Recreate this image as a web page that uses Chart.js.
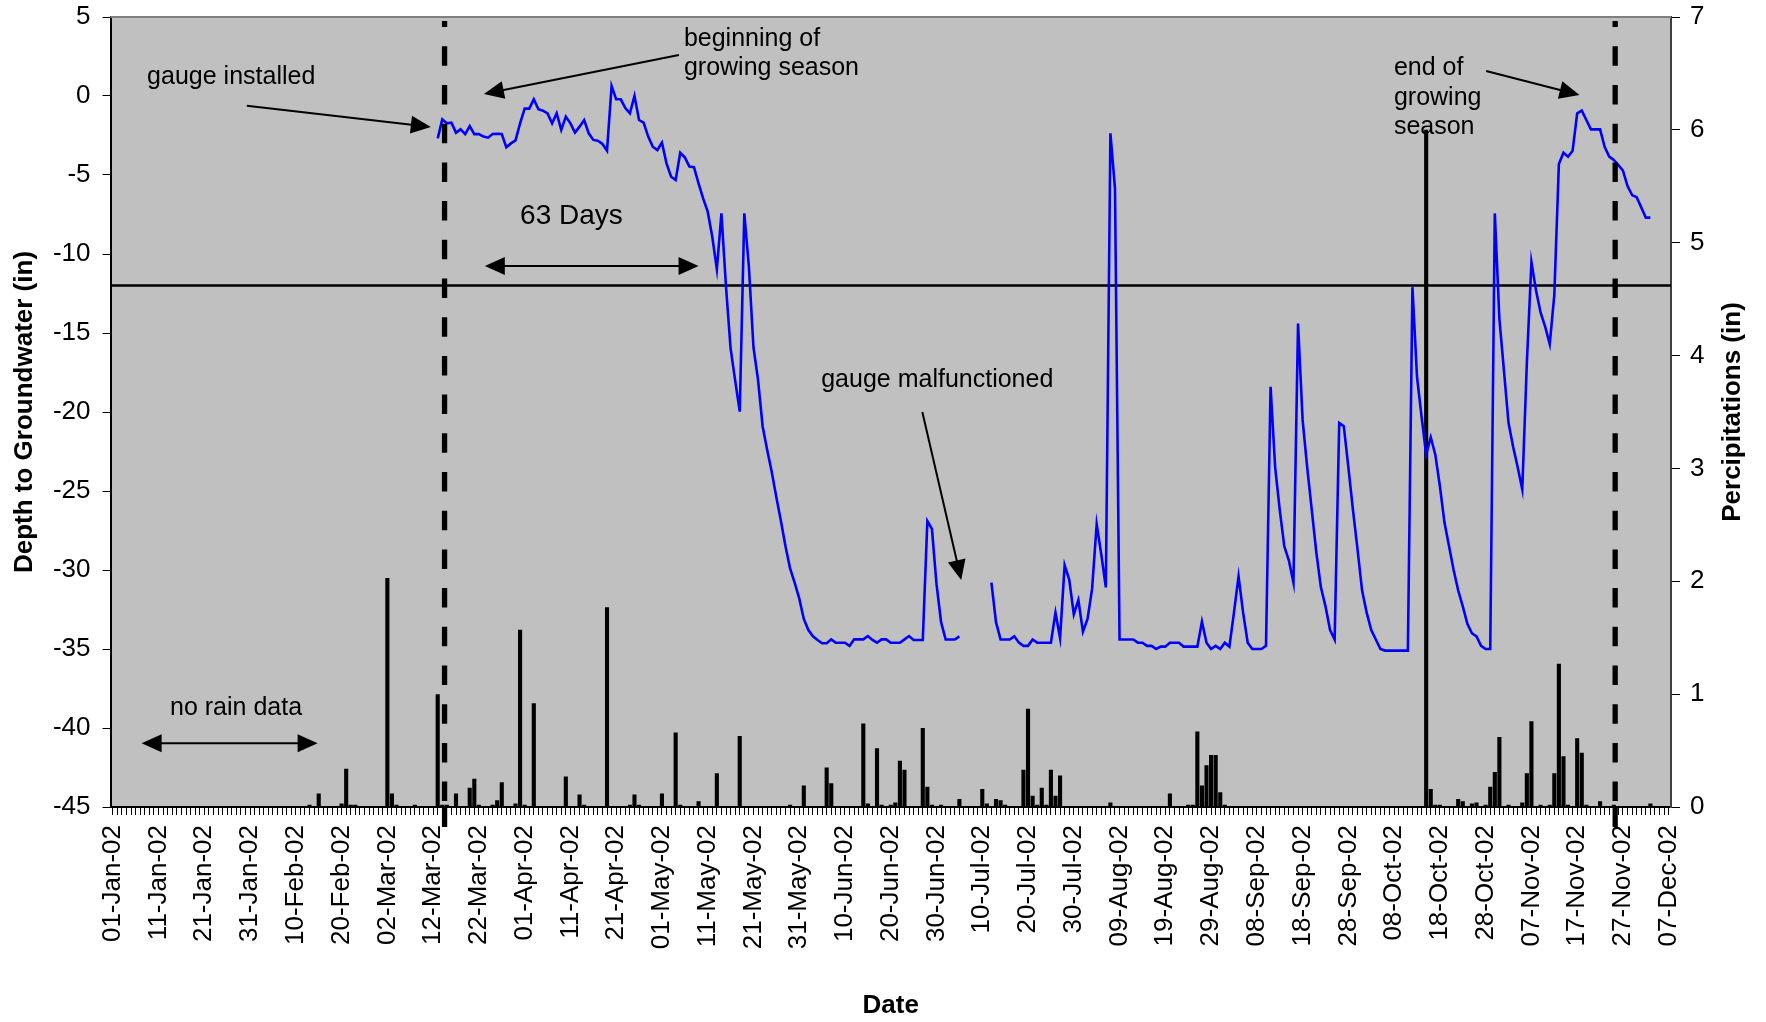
<!DOCTYPE html>
<html>
<head>
<meta charset="utf-8">
<script src="https://cdn.jsdelivr.net/npm/chart.js@4.4.1/dist/chart.umd.min.js"></script>
<style>
html,body{margin:0;padding:0;background:#fff;}
canvas{display:block;}
</style>
</head>
<body>
<canvas id="c" width="1766" height="1022"></canvas>
<script>
// ---------------- data ----------------
const xTickLabels = ['01-Jan-02','11-Jan-02','21-Jan-02','31-Jan-02','10-Feb-02','20-Feb-02','02-Mar-02','12-Mar-02',
  '22-Mar-02','01-Apr-02','11-Apr-02','21-Apr-02','01-May-02','11-May-02','21-May-02','31-May-02','10-Jun-02',
  '20-Jun-02','30-Jun-02','10-Jul-02','20-Jul-02','30-Jul-02','09-Aug-02','19-Aug-02','29-Aug-02','08-Sep-02',
  '18-Sep-02','28-Sep-02','08-Oct-02','18-Oct-02','28-Oct-02','07-Nov-02','17-Nov-02','27-Nov-02','07-Dec-02'];

const axisStartDate = '2002-01-01';
const axisEndDate = '2002-12-07';

// daily depth to groundwater (in), first reading on depthStartDate; null = gauge malfunctioned
const depthStartDate = '2002-03-13';
const depthIn = [
  -2.68,-1.48,-1.73,-1.69,-2.32,-2.11,-2.41,-1.90,-2.41,-2.41,
  -2.57,-2.64,-2.41,-2.39,-2.41,-3.25,-3.00,-2.81,-1.73,-0.80,
  -0.80,-0.21,-0.84,-0.93,-1.10,-1.73,-1.10,-2.15,-1.31,-1.73,
  -2.32,-1.94,-1.52,-2.36,-2.78,-2.83,-3.04,-3.46,0.63,-0.21,
  -0.21,-0.76,-1.10,0.00,-1.52,-1.69,-2.57,-3.21,-3.42,-2.95,
  -4.26,-5.11,-5.32,-3.59,-3.88,-4.47,-4.51,-5.53,-6.48,-7.32,
  -8.91,-10.97,-7.43,-12.07,-15.97,-18.0,-19.98,-7.43,-10.8,-15.9,
  -17.97,-20.9,-22.4,-23.8,-25.4,-26.9,-28.5,-29.9,-30.8,-31.8,
  -33.1,-33.8,-34.2,-34.43,-34.64,-34.64,-34.39,-34.6,-34.6,-34.6,
  -34.81,-34.39,-34.39,-34.39,-34.18,-34.43,-34.6,-34.39,-34.39,-34.6,
  -34.6,-34.6,-34.39,-34.18,-34.43,-34.43,-34.43,-26.9,-27.4,-30.9,
  -33.3,-34.4,-34.4,-34.4,-34.2,null,null,null,null,null,
  null,-30.8,-33.3,-34.4,-34.4,-34.4,-34.2,-34.6,-34.8,-34.8,
  -34.4,-34.6,-34.6,-34.6,-34.6,-32.7,-34.3,-29.7,-30.6,-32.8,
  -31.9,-33.9,-33.1,-31.2,-27.1,-29.0,-31.1,-2.36,-5.84,-34.4,
  -34.4,-34.4,-34.4,-34.6,-34.6,-34.8,-34.8,-35.0,-34.85,-34.85,
  -34.6,-34.6,-34.6,-34.85,-34.85,-34.85,-34.85,-33.27,-34.6,-35.0,
  -34.8,-35.0,-34.6,-34.85,-32.7,-30.4,-32.7,-34.6,-35.0,-35.0,
  -35.0,-34.8,-18.4,-23.5,-26.2,-28.5,-29.4,-30.8,-14.4,-20.5,
  -23.5,-26.2,-28.9,-31.1,-32.3,-33.8,-34.4,-20.7,-20.9,-23.5,
  -26.2,-28.7,-31.3,-32.7,-33.8,-34.4,-35.0,-35.1,-35.1,-35.1,
  -35.1,-35.1,-35.1,-12.1,-17.8,-20.3,-22.7,-21.6,-22.7,-24.7,
  -27.0,-28.5,-30.0,-31.3,-32.3,-33.4,-34.0,-34.2,-34.8,-35.0,
  -35.0,-7.43,-14.1,-17.4,-20.7,-22.2,-23.5,-24.9,-16.9,-10.5,
  -12.3,-13.7,-14.6,-15.7,-12.6,-4.3,-3.59,-3.84,-3.46,-1.10,
  -0.93,-1.52,-2.11,-2.11,-2.11,-3.21,-3.84,-4.05,-4.37,-4.73,
  -5.70,-6.27,-6.41,-7.05,-7.70,-7.70
];

// daily precipitation (in)
const rainDates = [
  '2002-02-13','2002-02-15','2002-02-20','2002-02-21','2002-02-22','2002-02-23','2002-03-02','2002-03-03',
  '2002-03-04','2002-03-08','2002-03-13','2002-03-14','2002-03-15','2002-03-17','2002-03-20','2002-03-21',
  '2002-03-22','2002-03-25','2002-03-26','2002-03-27','2002-03-30','2002-03-31','2002-04-01','2002-04-03',
  '2002-04-10','2002-04-13','2002-04-14','2002-04-19','2002-04-24','2002-04-25','2002-04-26','2002-05-01',
  '2002-05-04','2002-05-05','2002-05-09','2002-05-13','2002-05-18','2002-05-29','2002-06-01','2002-06-06',
  '2002-06-07','2002-06-14','2002-06-15','2002-06-17','2002-06-18','2002-06-20','2002-06-21','2002-06-22',
  '2002-06-23','2002-06-27','2002-06-28','2002-06-29','2002-07-01','2002-07-05','2002-07-10','2002-07-11',
  '2002-07-13','2002-07-14','2002-07-15','2002-07-19','2002-07-20','2002-07-21','2002-07-22','2002-07-23',
  '2002-07-24','2002-07-25','2002-07-26','2002-07-27','2002-08-07','2002-08-20','2002-08-24','2002-08-25',
  '2002-08-26','2002-08-27','2002-08-28','2002-08-29','2002-08-30','2002-08-31','2002-09-01','2002-10-15',
  '2002-10-16','2002-10-17','2002-10-18','2002-10-22','2002-10-23','2002-10-25','2002-10-26','2002-10-28',
  '2002-10-29','2002-10-30','2002-10-31','2002-11-02','2002-11-05','2002-11-06','2002-11-07','2002-11-09',
  '2002-11-11','2002-11-12','2002-11-13','2002-11-14','2002-11-15','2002-11-17','2002-11-18','2002-11-19',
  '2002-11-22','2002-11-25','2002-12-03'
];
const rainIn = [
  0.02,0.12,0.03,0.34,0.02,0.02,2.03,0.12,
  0.02,0.02,1.00,0.02,0.02,0.12,0.17,0.25,
  0.02,0.02,0.06,0.22,0.03,1.57,0.02,0.92,
  0.27,0.11,0.02,1.77,0.02,0.11,0.02,0.12,
  0.66,0.02,0.05,0.30,0.63,0.02,0.19,0.35,
  0.21,0.74,0.03,0.52,0.02,0.02,0.04,0.41,
  0.33,0.70,0.18,0.02,0.02,0.07,0.16,0.03,
  0.07,0.06,0.02,0.33,0.87,0.10,0.02,0.17,
  0.02,0.33,0.10,0.28,0.04,0.12,0.02,0.02,
  0.67,0.19,0.37,0.46,0.46,0.13,0.02,6.00,
  0.16,0.02,0.02,0.07,0.05,0.03,0.04,0.02,
  0.18,0.31,0.62,0.02,0.04,0.30,0.76,0.02,
  0.02,0.30,1.27,0.45,0.02,0.61,0.48,0.02,
  0.05,0.02,0.03
];

const thresholdDepth = -12;                 // horizontal reference line (in)
const growingSeasonDays = [72.5, 328.3];    // day offsets of dashed season markers

// ---------------- helpers ----------------
const FONT = '"Liberation Sans", Arial, Helvetica, sans-serif';
const MONTHS = ['Jan','Feb','Mar','Apr','May','Jun','Jul','Aug','Sep','Oct','Nov','Dec'];
const DAY0 = Date.UTC(2002, 0, 1);
function dayOf(iso){ const [y,m,d] = iso.split('-').map(Number); return Math.round((Date.UTC(y,m-1,d)-DAY0)/864e5); }
function dayOfLabel(l){ const [d,mon,yy] = l.split('-'); return Math.round((Date.UTC(2000+Number(yy), MONTHS.indexOf(mon), Number(d))-DAY0)/864e5); }

const firstDay = dayOf(axisStartDate), lastDay = dayOf(axisEndDate);
const labelByDay = new Map(xTickLabels.map(l => [dayOfLabel(l), l]));
const allDays = []; for (let d = firstDay; d <= lastDay; d++) allDays.push(d);
const d0 = dayOf(depthStartDate);
const depthPoints = depthIn.map((v,i) => ({x: d0 + i, y: v}));
const rainPoints = rainDates.map((s,i) => ({x: dayOf(s), y: rainIn[i]}));

// annotations in data coordinates [day, depth]
const notes = [
  {t:'gauge installed', at:[7.5, 0.79], size:25},
  {t:'beginning of', at:[124.8, 3.16], size:25},
  {t:'growing season', at:[124.8, 1.33], size:25},
  {t:'63 Days', at:[89.0, -8.10], size:28},
  {t:'gauge malfunctioned', at:[154.8, -18.39], size:25},
  {t:'no rain data', at:[12.5, -39.18], size:25},
  {t:'end of', at:[279.95, 1.33], size:25},
  {t:'growing', at:[279.95, -0.54], size:25},
  {t:'season', at:[279.95, -2.41], size:25}
];
const arrows = [
  {from:[29.3,-0.61], to:[69.5,-1.96]},
  {from:[123.7,2.59], to:[81.1,0.13]},
  {from:[176.9,-20.0], to:[185.4,-30.63]},
  {from:[300.1,1.58], to:[320.5,0.06]}
];
const doubleArrows = [
  {from:[81.3,-10.76], to:[128.0,-10.76]},
  {from:[6.3,-40.97], to:[44.76,-40.97]}
];

function head(ctx, x1, y1, x2, y2){
  const a = Math.atan2(y2-y1, x2-x1), L = 20, W = 9;
  ctx.beginPath();
  ctx.moveTo(x2, y2);
  ctx.lineTo(x2 - L*Math.cos(a) + W*Math.sin(a), y2 - L*Math.sin(a) - W*Math.cos(a));
  ctx.lineTo(x2 - L*Math.cos(a) - W*Math.sin(a), y2 - L*Math.sin(a) + W*Math.cos(a));
  ctx.closePath(); ctx.fill();
}

const deco = {
  id: 'deco',
  beforeDraw(chart){
    const {ctx, chartArea:a} = chart;
    ctx.save();
    ctx.fillStyle = '#C0C0C0';
    ctx.fillRect(a.left, a.top, a.right-a.left, a.bottom-a.top);
    ctx.restore();
  },
  beforeDatasetsDraw(chart){
    const {ctx, chartArea:a, scales:{y}} = chart;
    const py = y.getPixelForValue(thresholdDepth);
    ctx.save();
    ctx.strokeStyle = '#000'; ctx.lineWidth = 2.5;
    ctx.beginPath(); ctx.moveTo(a.left, py); ctx.lineTo(a.right, py); ctx.stroke();
    ctx.restore();
  },
  afterDatasetsDraw(chart){
    const {ctx, chartArea:a, scales:{x, y}} = chart;
    const P = p => [x.getPixelForValue(p[0]), y.getPixelForValue(p[1])];
    ctx.save();
    // top border
    ctx.strokeStyle = '#808080'; ctx.lineWidth = 2;
    ctx.beginPath(); ctx.moveTo(a.left, a.top); ctx.lineTo(a.right, a.top); ctx.stroke();
    // growing season dashed markers
    ctx.strokeStyle = '#000'; ctx.lineWidth = 5.3;
    growingSeasonDays.forEach(d => {
      const px = x.getPixelForValue(d);
      ctx.setLineDash([19.5, 19.2]); ctx.lineDashOffset = 13.4;
      ctx.beginPath(); ctx.moveTo(px, a.top + 4); ctx.lineTo(px, a.bottom - 2); ctx.stroke();
      ctx.setLineDash([]);
      ctx.beginPath(); ctx.moveTo(px, a.bottom); ctx.lineTo(px, a.bottom + 20); ctx.stroke();
    });
    // arrows
    ctx.fillStyle = '#000'; ctx.lineWidth = 2;
    arrows.forEach(ar => {
      const [x1,y1] = P(ar.from), [x2,y2] = P(ar.to);
      const a2 = Math.atan2(y2-y1, x2-x1);
      ctx.beginPath(); ctx.moveTo(x1,y1); ctx.lineTo(x2-15*Math.cos(a2), y2-15*Math.sin(a2)); ctx.stroke();
      head(ctx, x1, y1, x2, y2);
    });
    doubleArrows.forEach(ar => {
      const [x1,y1] = P(ar.from), [x2,y2] = P(ar.to);
      ctx.beginPath(); ctx.moveTo(x1+15,y1); ctx.lineTo(x2-15,y2); ctx.stroke();
      head(ctx, x1, y1, x2, y2); head(ctx, x2, y2, x1, y1);
    });
    // texts
    ctx.textAlign = 'left'; ctx.textBaseline = 'alphabetic';
    notes.forEach(n => {
      const [px,py] = P(n.at);
      ctx.font = n.size + 'px ' + FONT;
      ctx.fillText(n.t, px, py);
    });
    ctx.restore();
  },
  afterDraw(chart){
    const {ctx, chartArea:a} = chart;
    const cy = (a.top + a.bottom)/2;
    ctx.save();
    ctx.fillStyle = '#000';
    ctx.font = 'bold 26px ' + FONT;
    ctx.textAlign = 'center'; ctx.textBaseline = 'alphabetic';
    ctx.fillText('Date', (a.left + a.right)/2, 1013);
    ctx.translate(31.5, cy); ctx.rotate(-Math.PI/2);
    ctx.fillText('Depth to Groundwater (in)', 0, 0);
    ctx.restore();
    ctx.save();
    ctx.fillStyle = '#000';
    ctx.font = 'bold 26px ' + FONT;
    ctx.textAlign = 'center'; ctx.textBaseline = 'alphabetic';
    ctx.translate(1740, cy); ctx.rotate(-Math.PI/2);
    ctx.fillText('Percipitations (in)', 0, 0);
    ctx.restore();
  }
};

const tickFont = {family: FONT, size: 26};

new Chart(document.getElementById('c'), {
  type: 'bar',
  data: {
    datasets: [
      {type:'line', label:'Depth to Groundwater', data: depthPoints, yAxisID:'y',
       borderColor:'#0000FF', borderWidth:2.6, pointRadius:0, spanGaps:false, tension:0, order:0},
      {type:'bar', label:'Precipitation', data: rainPoints, yAxisID:'y2',
       backgroundColor:'#000', borderWidth:0, barPercentage:1, categoryPercentage:0.9, order:1}
    ]
  },
  options: {
    responsive:false, animation:false, devicePixelRatio:1,
    layout:{padding:{left:0, right:0, top:17, bottom:0}},
    plugins:{legend:{display:false}, tooltip:{enabled:false}},
    scales:{
      x:{
        type:'linear', min:firstDay-0.5, max:lastDay+0.5, offset:false,
        afterBuildTicks: s => { s.ticks = allDays.map(v => ({value:v})); },
        afterFit: s => { s.height = 215; s.paddingLeft = 0; s.paddingRight = 0; },
        grid:{drawOnChartArea:false, drawTicks:true, tickLength:8, color:'#000', lineWidth:1, offset:false},
        border:{display:true, color:'#000', width:2},
        ticks:{autoSkip:false, minRotation:90, maxRotation:90, padding:10, color:'#000', font:tickFont,
               callback: v => labelByDay.get(v) || ''}
      },
      y:{
        position:'left', min:-45, max:5,
        afterFit: s => { s.width = 110.5; s.paddingTop = 0; s.paddingBottom = 0; },
        ticks:{stepSize:5, padding:12, color:'#000', font:tickFont},
        grid:{drawOnChartArea:false, tickLength:8, color:'#000'},
        border:{display:true, color:'#000', width:2}
      },
      y2:{
        position:'right', min:0, max:7,
        afterFit: s => { s.width = 95; s.paddingTop = 0; s.paddingBottom = 0; },
        ticks:{stepSize:1, padding:10, color:'#000', font:tickFont},
        grid:{drawOnChartArea:false, tickLength:9, color:'#000'},
        border:{display:true, color:'#404040', width:2}
      }
    }
  },
  plugins:[deco]
});
</script>
</body>
</html>
